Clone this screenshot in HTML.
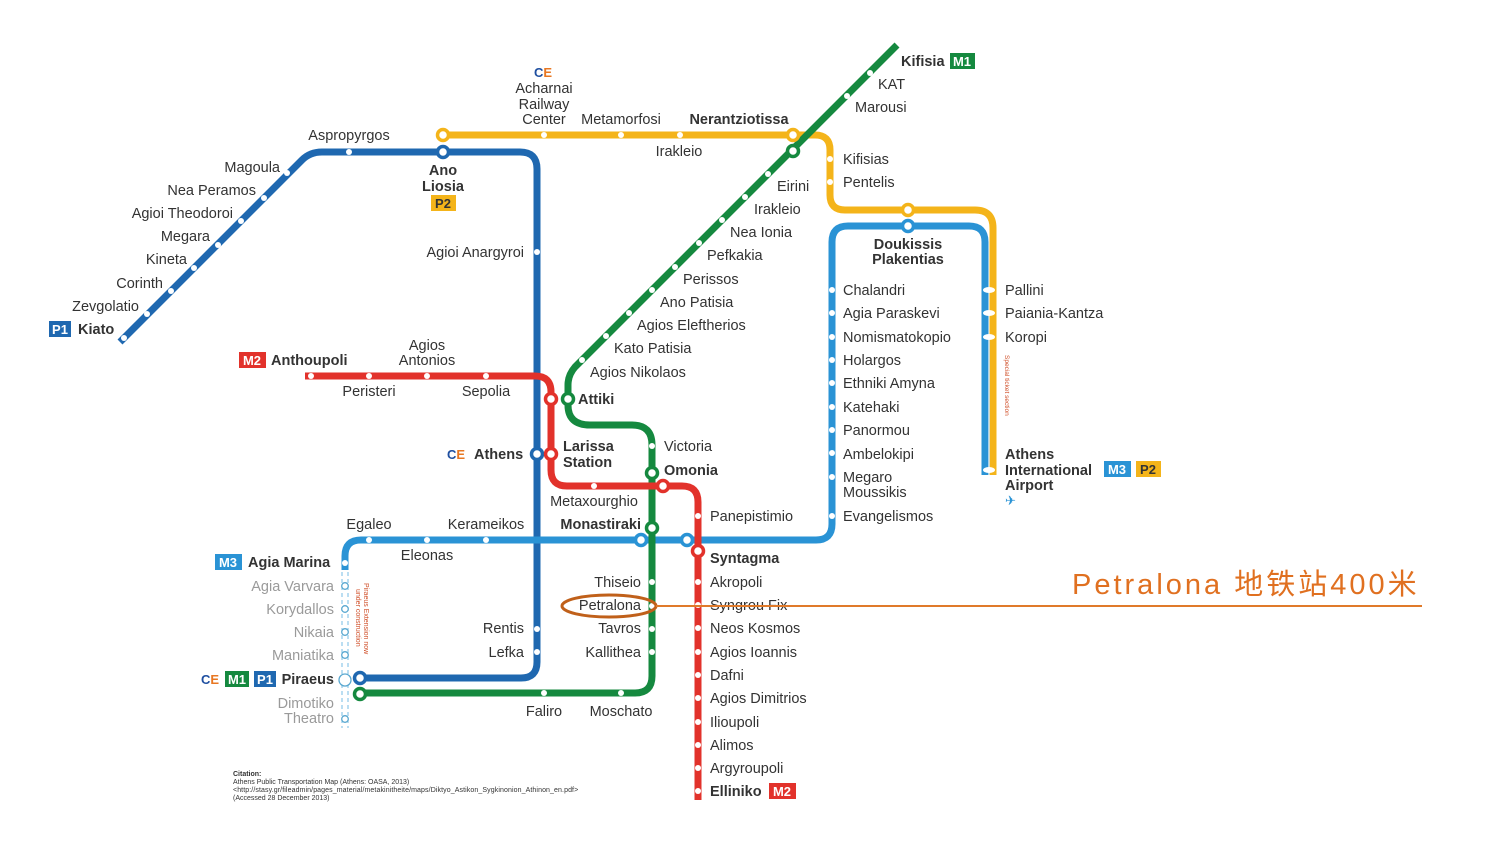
<!DOCTYPE html>
<html><head><meta charset="utf-8"><style>
html,body{margin:0;padding:0;background:#fff;}
svg{display:block;}
text{font-family:"Liberation Sans",Arial,sans-serif;font-size:14.5px;fill:#333;}
.b{font-weight:bold;}
.g{fill:#9a9a9a;}
.e{text-anchor:end;}
.m{text-anchor:middle;}
.bx{font-weight:bold;fill:#fff;font-size:13px;}
</style></head><body>
<svg width="1507" height="848" viewBox="0 0 1507 848" xmlns="http://www.w3.org/2000/svg">
<g fill="none" stroke-width="7" stroke-linejoin="round">
<path d="M443 135 H815 Q830 135 830 150 V195 Q830 210 845 210 H975 Q993 210 993 228 V475" stroke="#f4b41a"/>
<path d="M120 342 L302 160 Q310 152 322 152 H520 Q537 152 537 169 V662 Q537 678 521 678 H360" stroke="#1f68b0"/>
<path d="M345 570 V556 Q345 540 361 540 H816 Q832 540 832 524 V242 Q832 226 848 226 H969 Q985 226 985 242 V475" stroke="#2a93d5"/>
<path d="M897 45 L575 367 Q568 375 568 385 V405 Q568 425 590 425 H632 Q652 425 652 445 V676 Q652 693 635 693 H360" stroke="#15893f"/>
<path d="M305 376 H535 Q551 376 551 392 V470 Q551 486 567 486 H682 Q698 486 698 502 V800" stroke="#e2322b"/>
</g>
<line x1="989" y1="340" x2="989" y2="475" stroke="#cfe6f6" stroke-width="1.5"/>
<path d="M342 572 V728 M348 572 V728" stroke="#8ec8e8" stroke-width="1.2" stroke-dasharray="4 3" fill="none"/>
<g fill="#fff" stroke="#5aa8d0" stroke-width="1.3">
<circle cx="345" cy="586" r="3.3"/><circle cx="345" cy="609" r="3.3"/><circle cx="345" cy="632" r="3.3"/><circle cx="345" cy="655" r="3.3"/><circle cx="345" cy="719" r="3.3"/><circle cx="345" cy="680" r="6"/>
</g>
<g fill="#fff">
<circle cx="287" cy="173" r="3"/><circle cx="264" cy="198" r="3"/><circle cx="241" cy="221" r="3"/><circle cx="218" cy="245" r="3"/><circle cx="194" cy="268" r="3"/><circle cx="171" cy="291" r="3"/><circle cx="147" cy="314" r="3"/><circle cx="124" cy="338" r="3"/>
<circle cx="349" cy="152" r="3"/><circle cx="537" cy="252" r="3"/><circle cx="537" cy="629" r="3"/><circle cx="537" cy="652" r="3"/>
<circle cx="544" cy="135" r="3"/><circle cx="621" cy="135" r="3"/><circle cx="680" cy="135" r="3"/>
<circle cx="830" cy="159" r="3"/><circle cx="830" cy="182" r="3"/>
<circle cx="870" cy="73" r="3"/><circle cx="847" cy="96" r="3"/>
<circle cx="768" cy="174" r="3"/><circle cx="745" cy="197" r="3"/><circle cx="722" cy="220" r="3"/><circle cx="699" cy="243" r="3"/><circle cx="675" cy="267" r="3"/><circle cx="652" cy="290" r="3"/><circle cx="629" cy="313" r="3"/><circle cx="606" cy="336" r="3"/><circle cx="582" cy="360" r="3"/>
<circle cx="652" cy="446" r="3"/><circle cx="652" cy="582" r="3"/><circle cx="652" cy="606" r="3"/><circle cx="652" cy="629" r="3"/><circle cx="652" cy="652" r="3"/>
<circle cx="621" cy="693" r="3"/><circle cx="544" cy="693" r="3"/>
<circle cx="311" cy="376" r="3"/><circle cx="369" cy="376" r="3"/><circle cx="427" cy="376" r="3"/><circle cx="486" cy="376" r="3"/>
<circle cx="594" cy="486" r="3"/>
<circle cx="698" cy="516" r="3"/><circle cx="698" cy="582" r="3"/><circle cx="698" cy="605" r="3"/><circle cx="698" cy="628" r="3"/><circle cx="698" cy="652" r="3"/><circle cx="698" cy="675" r="3"/><circle cx="698" cy="698" r="3"/><circle cx="698" cy="722" r="3"/><circle cx="698" cy="745" r="3"/><circle cx="698" cy="768" r="3"/><circle cx="698" cy="791" r="3"/>
<circle cx="345" cy="563" r="3"/><circle cx="369" cy="540" r="3"/><circle cx="427" cy="540" r="3"/><circle cx="486" cy="540" r="3"/>
<circle cx="832" cy="290" r="3"/><circle cx="832" cy="313" r="3"/><circle cx="832" cy="337" r="3"/><circle cx="832" cy="360" r="3"/><circle cx="832" cy="383" r="3"/><circle cx="832" cy="407" r="3"/><circle cx="832" cy="430" r="3"/><circle cx="832" cy="453" r="3"/><circle cx="832" cy="477" r="3"/><circle cx="832" cy="516" r="3"/>
<ellipse cx="989" cy="290" rx="6" ry="3"/><ellipse cx="989" cy="313" rx="6" ry="3"/><ellipse cx="989" cy="337" rx="6" ry="3"/><ellipse cx="989" cy="470" rx="6" ry="3"/>
</g>
<g fill="#fff" stroke-width="3.5">
<circle cx="443" cy="135" r="5.5" stroke="#f4b41a"/><circle cx="443" cy="152" r="5.5" stroke="#1f68b0"/>
<circle cx="793" cy="135" r="5.5" stroke="#f4b41a"/><circle cx="793" cy="151" r="5.5" stroke="#15893f"/>
<circle cx="908" cy="210" r="5.5" stroke="#f4b41a"/><circle cx="908" cy="226" r="5.5" stroke="#2a93d5"/>
<circle cx="551" cy="399" r="5.5" stroke="#e2322b"/><circle cx="568" cy="399" r="5.5" stroke="#15893f"/>
<circle cx="537" cy="454" r="5.5" stroke="#1f68b0"/><circle cx="551" cy="454" r="5.5" stroke="#e2322b"/>
<circle cx="652" cy="473" r="5.5" stroke="#15893f"/><circle cx="663" cy="486" r="5.5" stroke="#e2322b"/>
<circle cx="652" cy="528" r="5.5" stroke="#15893f"/><circle cx="641" cy="540" r="5.5" stroke="#2a93d5"/>
<circle cx="687" cy="540" r="5.5" stroke="#2a93d5"/><circle cx="698" cy="551" r="5.5" stroke="#e2322b"/>
<circle cx="360" cy="678" r="5.5" stroke="#1f68b0"/><circle cx="360" cy="694" r="5.5" stroke="#15893f"/>
</g>
<text x="280" y="172" class="e">Magoula</text>
<text x="256" y="195" class="e">Nea Peramos</text>
<text x="233" y="218" class="e">Agioi Theodoroi</text>
<text x="210" y="241" class="e">Megara</text>
<text x="187" y="264" class="e">Kineta</text>
<text x="163" y="288" class="e">Corinth</text>
<text x="139" y="311" class="e">Zevgolatio</text>
<rect x="49" y="321" width="22" height="16" fill="#1f68b0"/><text x="60" y="334" class="bx m">P1</text>
<text x="78" y="334" class="b">Kiato</text>
<text x="349" y="140" class="m">Aspropyrgos</text>
<text x="443" y="175" class="b m">Ano</text><text x="443" y="191" class="b m">Liosia</text>
<rect x="431" y="195" width="25" height="16" fill="#f4b41a"/><text x="443" y="208" class="b m" style="font-size:13px">P2</text>
<text x="524" y="257" class="e">Agioi Anargyroi</text>
<text x="544" y="93" class="m">Acharnai</text><text x="544" y="109" class="m">Railway</text><text x="544" y="124" class="m">Center</text>
<text x="621" y="124" class="m">Metamorfosi</text>
<text x="679" y="156" class="m">Irakleio</text>
<text x="739" y="124" class="b m">Nerantziotissa</text>
<rect x="950" y="53" width="25" height="16" fill="#15893f"/><text x="962" y="66" class="bx m">M1</text>
<text x="901" y="66" class="b">Kifisia</text>
<text x="878" y="89">KAT</text>
<text x="855" y="112">Marousi</text>
<text x="843" y="164">Kifisias</text>
<text x="843" y="187">Pentelis</text>
<text x="777" y="191">Eirini</text>
<text x="754" y="214">Irakleio</text>
<text x="730" y="237">Nea Ionia</text>
<text x="707" y="260">Pefkakia</text>
<text x="683" y="284">Perissos</text>
<text x="660" y="307">Ano Patisia</text>
<text x="637" y="330">Agios Eleftherios</text>
<text x="614" y="353">Kato Patisia</text>
<text x="590" y="377">Agios Nikolaos</text>
<text x="578" y="404" class="b">Attiki</text>
<rect x="239" y="352" width="27" height="16" fill="#e2322b"/><text x="252" y="365" class="bx m">M2</text>
<text x="271" y="365" class="b">Anthoupoli</text>
<text x="427" y="350" class="m">Agios</text><text x="427" y="365" class="m">Antonios</text>
<text x="369" y="396" class="m">Peristeri</text>
<text x="486" y="396" class="m">Sepolia</text>
<text x="563" y="451" class="b">Larissa</text><text x="563" y="467" class="b">Station</text>
<text x="474" y="459" class="b">Athens</text>
<text x="664" y="451">Victoria</text>
<text x="664" y="475" class="b">Omonia</text>
<text x="594" y="506" class="m">Metaxourghio</text>
<text x="641" y="529" class="b e">Monastiraki</text>
<text x="369" y="529" class="m">Egaleo</text>
<text x="486" y="529" class="m">Kerameikos</text>
<text x="427" y="560" class="m">Eleonas</text>
<text x="710" y="521">Panepistimio</text>
<text x="710" y="563" class="b">Syntagma</text>
<text x="710" y="587">Akropoli</text>
<text x="710" y="610">Syngrou Fix</text>
<text x="710" y="633">Neos Kosmos</text>
<text x="710" y="657">Agios Ioannis</text>
<text x="710" y="680">Dafni</text>
<text x="710" y="703">Agios Dimitrios</text>
<text x="710" y="727">Ilioupoli</text>
<text x="710" y="750">Alimos</text>
<text x="710" y="773">Argyroupoli</text>
<text x="710" y="796" class="b">Elliniko</text>
<rect x="769" y="783" width="27" height="16" fill="#e2322b"/><text x="782" y="796" class="bx m">M2</text>
<text x="641" y="587" class="e">Thiseio</text>
<text x="641" y="610" class="e">Petralona</text>
<text x="641" y="633" class="e">Tavros</text>
<text x="641" y="657" class="e">Kallithea</text>
<text x="524" y="633" class="e">Rentis</text>
<text x="524" y="657" class="e">Lefka</text>
<text x="544" y="716" class="m">Faliro</text>
<text x="621" y="716" class="m">Moschato</text>
<rect x="215" y="554" width="27" height="16" fill="#2a93d5"/><text x="228" y="567" class="bx m">M3</text>
<text x="248" y="567" class="b">Agia Marina</text>
<text x="334" y="591" class="e g">Agia Varvara</text>
<text x="334" y="614" class="e g">Korydallos</text>
<text x="334" y="637" class="e g">Nikaia</text>
<text x="334" y="660" class="e g">Maniatika</text>
<text x="334" y="684" class="e b">Piraeus</text>
<rect x="225" y="671" width="24" height="16" fill="#15893f"/><text x="237" y="684" class="bx m">M1</text>
<rect x="254" y="671" width="22" height="16" fill="#1f68b0"/><text x="265" y="684" class="bx m">P1</text>
<text x="334" y="708" class="e g">Dimotiko</text><text x="334" y="723" class="e g">Theatro</text>
<text transform="translate(364,583) rotate(90)" style="font-size:7px;fill:#d0502a">Piraeus Extension now</text>
<text transform="translate(356,589) rotate(90)" style="font-size:7px;fill:#d0502a">under construction</text>
<text x="908" y="249" class="b m">Doukissis</text><text x="908" y="264" class="b m">Plakentias</text>
<text x="843" y="295">Chalandri</text>
<text x="843" y="318">Agia Paraskevi</text>
<text x="843" y="342">Nomismatokopio</text>
<text x="843" y="365">Holargos</text>
<text x="843" y="388">Ethniki Amyna</text>
<text x="843" y="412">Katehaki</text>
<text x="843" y="435">Panormou</text>
<text x="843" y="459">Ambelokipi</text>
<text x="843" y="482">Megaro</text><text x="843" y="497">Moussikis</text>
<text x="843" y="521">Evangelismos</text>
<text x="1005" y="295">Pallini</text>
<text x="1005" y="318">Paiania-Kantza</text>
<text x="1005" y="342">Koropi</text>
<text transform="translate(1005,355) rotate(90)" style="font-size:6.5px;fill:#d0502a">Special ticket section</text>
<text x="1005" y="459" class="b">Athens</text>
<text x="1005" y="475" class="b">International</text>
<text x="1005" y="490" class="b">Airport</text>
<rect x="1104" y="461" width="27" height="16" fill="#2a93d5"/><text x="1117" y="474" class="bx m">M3</text>
<rect x="1136" y="461" width="25" height="16" fill="#f4b41a"/><text x="1148" y="474" class="b m" style="font-size:13px">P2</text>
<text x="1005" y="505" style="fill:#2a93d5;font-size:13px">✈</text>
<text x="534" y="77" style="fill:#1f4fa0;font-weight:bold;font-size:13px">C<tspan style="fill:#e87722">E</tspan></text>
<text x="447" y="459" style="fill:#1f4fa0;font-weight:bold;font-size:13px">C<tspan style="fill:#e87722">E</tspan></text>
<text x="201" y="684" style="fill:#1f4fa0;font-weight:bold;font-size:13px">C<tspan style="fill:#e87722">E</tspan></text>
<g>
<text x="233" y="776" class="b" style="font-size:7px">Citation:</text>
<text x="233" y="784" style="font-size:7px">Athens Public Transportation Map (Athens: OASA, 2013)</text>
<text x="233" y="792" style="font-size:7px;letter-spacing:0.1px">&lt;http://stasy.gr/fileadmin/pages_material/metakinitheite/maps/Diktyo_Astikon_Sygkinonion_Athinon_en.pdf&gt;</text>
<text x="233" y="800" style="font-size:7px">(Accessed 28 December 2013)</text>
</g>
<ellipse cx="609" cy="606" rx="47" ry="11" fill="none" stroke="#c0601a" stroke-width="3"/>
<line x1="656" y1="606" x2="1422" y2="606" stroke="#e07a2a" stroke-width="2"/>
<text x="1072" y="594" style="font-family:'Liberation Sans','Noto Sans CJK SC',sans-serif;font-size:29px;fill:#e07020;letter-spacing:3px">Petralona 地铁站400米</text>
</svg>
</body></html>
